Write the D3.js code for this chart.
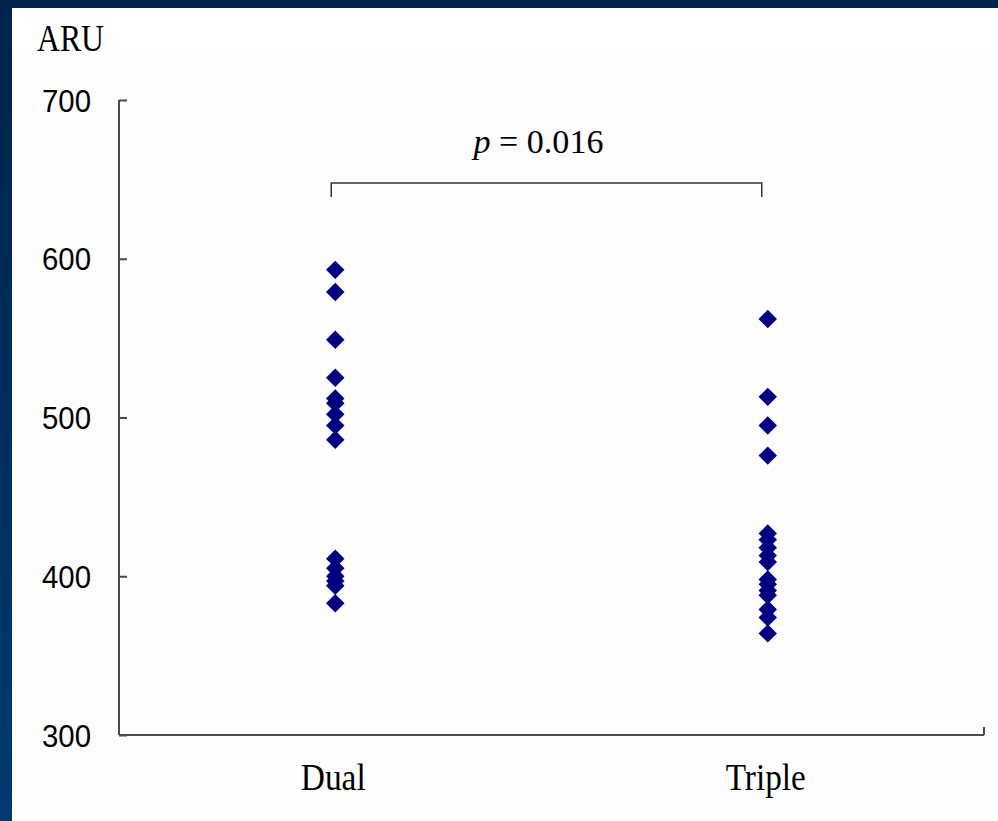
<!DOCTYPE html>
<html>
<head>
<meta charset="utf-8">
<script src="https://cdn.jsdelivr.net/npm/d3@7"></script>
<style>
  body { margin: 0; background: #00244b; }
  svg { display: block; }
</style>
</head>
<body>
<div id="chart"></div>
<script>
const categories = ["Dual", "Triple"];
const dualValues = [593, 579, 549, 525, 512, 509, 502, 495, 486, 411, 405, 400, 397, 394, 383];
const tripleValues = [562, 513, 495, 476, 427, 423, 418, 413, 409, 398, 395, 391, 388, 379, 374, 364];
const yTicks = [300, 400, 500, 600, 700];
const pLabel = "0.016";

const W = 998, H = 821;
const margin = { top: 100, right: 14, bottom: 86, left: 119 },
    width = W - margin.left - margin.right,
    height = H - margin.top - margin.bottom;

const serif = "'Times New Roman', 'Liberation Serif', Times, serif";

const root = d3.select("#chart")
    .append("svg")
    .attr("width", W)
    .attr("height", H);

// slide background + white panel
const grad = root.append("defs").append("linearGradient")
    .attr("id", "bg").attr("x1", 0).attr("y1", 0).attr("x2", 0).attr("y2", 1);
grad.append("stop").attr("offset", "0%").attr("stop-color", "#00234a");
grad.append("stop").attr("offset", "100%").attr("stop-color", "#003a70");
root.append("rect").attr("width", W).attr("height", H).attr("fill", "url(#bg)");
root.append("rect").attr("x", 12).attr("y", 8).attr("width", W - 12).attr("height", H - 8).attr("fill", "#ffffff");
root.append("rect").attr("x", 12).attr("y", 50).attr("width", W - 12).attr("height", H - 50).attr("fill", "#fdfdfd");

const svg = root.append("g")
    .attr("transform", `translate(${margin.left},${margin.top})`);

const x = d3.scaleBand()
    .domain(categories)
    .range([0, width]);

const y = d3.scaleLinear()
    .domain([300, 700])
    .range([height, 0]);

const axisColor = "#4a4a4a";

// Y axis, ticks pointing inward
const yAxis = svg.append("g")
    .call(d3.axisRight(y).tickValues(yTicks).tickSize(8).tickFormat(""));
yAxis.select(".domain").remove();
yAxis.append("line")
    .attr("x1", 0).attr("x2", 0).attr("y1", 0).attr("y2", height)
    .attr("stroke", axisColor).attr("stroke-width", 2);
yAxis.selectAll(".tick line").attr("stroke", axisColor).attr("stroke-width", 2);

svg.selectAll(".ylab")
    .data(yTicks)
    .enter()
    .append("text")
    .attr("class", "ylab")
    .attr("x", -28)
    .attr("y", d => y(d))
    .attr("dy", "0.36em")
    .attr("text-anchor", "end")
    .style("font-family", "'Liberation Sans', Arial, sans-serif")
    .style("font-size", "32px")
    .attr("textLength", 49)
    .attr("lengthAdjust", "spacingAndGlyphs")
    .attr("fill", "#000")
    .text(d => d);

// X axis
svg.append("line")
    .attr("x1", 0).attr("x2", width).attr("y1", height).attr("y2", height)
    .attr("stroke", axisColor).attr("stroke-width", 2);
svg.append("line")
    .attr("x1", width).attr("x2", width).attr("y1", height).attr("y2", height - 8)
    .attr("stroke", axisColor).attr("stroke-width", 2);

svg.selectAll(".xlab")
    .data(categories)
    .enter()
    .append("text")
    .attr("class", "xlab")
    .attr("x", d => x(d) + x.bandwidth() / 2 - 2)
    .attr("y", height + 55)
    .attr("text-anchor", "middle")
    .style("font-family", serif)
    .style("font-size", "38px")
    .attr("textLength", d => d === "Dual" ? 65 : 80)
    .attr("lengthAdjust", "spacingAndGlyphs")
    .attr("fill", "#000")
    .text(d => d);

// points
const points = [
    ...dualValues.map(v => ({ cat: "Dual", v })),
    ...tripleValues.map(v => ({ cat: "Triple", v }))
];
const diamond = d3.symbol().type(d3.symbolSquare).size(170);
svg.selectAll(".pt")
    .data(points)
    .enter()
    .append("path")
    .attr("class", "pt")
    .attr("d", diamond)
    .attr("transform", d => `translate(${x(d.cat) + x.bandwidth() / 2},${y(d.v)}) rotate(45)`)
    .attr("fill", "#000080");

// significance bracket
const bx1 = x("Dual") + x.bandwidth() / 2 - 4,
    bx2 = x("Triple") + x.bandwidth() / 2 - 6,
    by = y(700) + 83;
svg.append("path")
    .attr("d", `M${bx1},${by + 14}V${by}H${bx2}V${by + 14}`)
    .attr("fill", "none")
    .attr("stroke", "#333")
    .attr("stroke-width", 1.5);

const pText = svg.append("text")
    .attr("x", (bx1 + bx2) / 2 - 8)
    .attr("y", by - 30)
    .attr("text-anchor", "middle")
    .style("font-family", serif)
    .style("font-size", "34px")
    .attr("textLength", 130)
    .attr("lengthAdjust", "spacingAndGlyphs")
    .attr("fill", "#000");
pText.append("tspan").style("font-style", "italic").text("p");
pText.append("tspan").text(" = " + pLabel);

// unit label
root.append("text")
    .attr("x", 37)
    .attr("y", 51)
    .style("font-family", serif)
    .style("font-size", "37px")
    .attr("textLength", 67)
    .attr("lengthAdjust", "spacingAndGlyphs")
    .attr("fill", "#000")
    .text("ARU");
</script>
</body>
</html>
